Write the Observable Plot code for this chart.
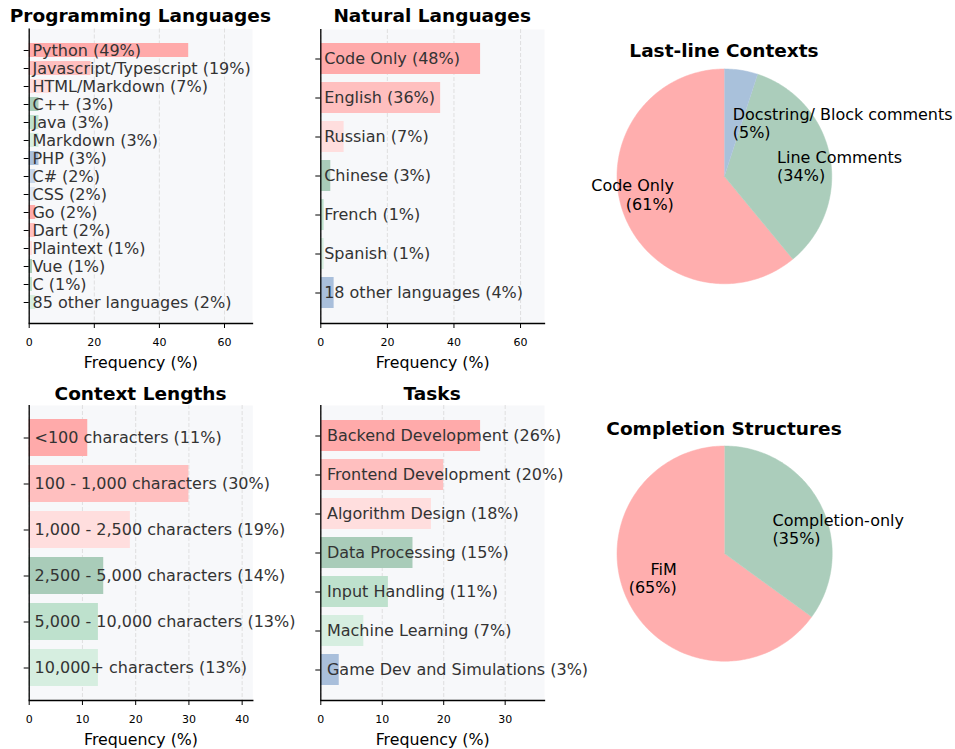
<!DOCTYPE html>
<html><head><meta charset="utf-8">
<script src="https://cdn.jsdelivr.net/npm/d3@7"></script>
<script src="https://cdn.jsdelivr.net/npm/@observablehq/plot@0.6"></script>
<style>
body{margin:0;background:#fff;font-family:"DejaVu Sans",sans-serif;}
#root{position:relative;width:955px;height:749px;overflow:hidden;background:#fff;}
.panel{position:absolute;}
.title{position:absolute;font-weight:bold;font-size:18.5px;transform:translate(-50%,-50%);white-space:nowrap;color:#000;line-height:1.2;}
</style></head><body><div id="root"></div>
<script>
// ---- data ----
const progLangs = ["Python","Javascript/Typescript","HTML/Markdown","C++","Java","Markdown","PHP","C#","CSS","Go","Dart","Plaintext","Vue","C","85 other languages"];
const progVals = [49,19,7,3,3,3,3,2,2,2,2,1,1,1,2];
const natLangs = ["Code Only","English","Russian","Chinese","French","Spanish","18 other languages"];
const natVals = [48,36,7,3,1,1,4];
const ctxLens = ["<100 characters","100 - 1,000 characters","1,000 - 2,500 characters","2,500 - 5,000 characters","5,000 - 10,000 characters","10,000+ characters"];
const ctxVals = [11,30,19,14,13,13];
const tasks = ["Backend Development","Frontend Development","Algorithm Design","Data Processing","Input Handling","Machine Learning","Game Dev and Simulations"];
const taskVals = [26,20,18,15,11,7,3];
const lastLine = ["Code Only","Line Comments","Docstring/ Block comments"];
const lastLineVals = [61,34,5];
const compStruct = ["FiM","Completion-only"];
const compStructVals = [65,35];
const ticks60 = [0,20,40,60];
const ticks40 = [0,10,20,30,40];
const ticks30 = [0,10,20,30];
const palette = ["#ffaaaa","#ffbfbf","#ffdede","#a9ccb9","#bee1cd","#d6eee0","#a9bfdb","#c7d6ea","#dfe7f3"];
const pieColors = ["#ffaeae","#abcdbb","#a9c1db"];

const root = document.getElementById("root");
const FONT = "DejaVu Sans";

function addTitle(text, x, y){
  const d = document.createElement("div");
  d.className = "title"; d.textContent = text;
  d.style.left = x + "px"; d.style.top = y + "px";
  root.appendChild(d);
}

function barPanel(cats, vals, ticks, L, T, W, H, axL, axR, axT, axB, title, titleY){
  const n = cats.length;
  const data = cats.map((c,i)=>({cat:c, v:vals[i], label:`${c} (${vals[i]}%)`, color: palette[i % palette.length]}));
  const xmax = d3.max(vals)*1.4;
  const chart = Plot.plot({
    width: W, height: H,
    marginLeft: axL - L, marginRight: L + W - axR, marginTop: axT - T, marginBottom: T + H - axB,
    style: {fontFamily: FONT, background: "transparent", overflow: "visible"},
    x: {domain: [0, xmax]},
    y: {domain: cats, paddingInner: 0.2, paddingOuter: 0.05*(n-0.2), align: 0.5},
    color: {type: "identity"},
    marks: [
      Plot.frame({fill: "#f7f8fa", stroke: "none"}),
      Plot.gridX(ticks, {stroke: "#dcdcdc", strokeOpacity: 1, strokeWidth: 0.9, strokeDasharray: "4,2"}),
      Plot.barX(data, {x: "v", y: "cat", fill: "color"}),
      Plot.text(data, {x: () => 1, y: "cat", text: "label", textAnchor: "start", fill: "#333", fontSize: 16}),
      Plot.ruleX([0], {stroke: "black", strokeWidth: 1.3}),
      Plot.frame({anchor: "bottom", stroke: "black", strokeWidth: 1.3}),
      Plot.axisY({tickFormat: () => "", tickSize: 5, color: "black", label: null}),
      Plot.axisX(ticks, {tickSize: 5, tickPadding: 10, fontSize: 11, color: "black", label: null}),
      Plot.text(["Frequency (%)"], {frameAnchor: "bottom", dy: 39, lineAnchor: "middle", fontSize: 15.8, fill: "black"})
    ]
  });
  const div = document.createElement("div");
  div.className = "panel"; div.style.left = L + "px"; div.style.top = T + "px";
  div.appendChild(chart); root.appendChild(div);
  addTitle(title, (axL+axR)/2, titleY);
}

function piePanel(cats, vals, cx, cy, r, title, titleY){
  const S = 1.2;
  const size = 2*S*r;
  const total = d3.sum(vals);
  const pts = [], labels = [];
  let a = 90;
  cats.forEach((c,i)=>{
    const sweep = 360*vals[i]/total;
    const a0 = a, a1 = a + sweep;
    const col = pieColors[i];
    pts.push({slice:c, x:0, y:0, color:col});
    const steps = Math.max(2, Math.ceil(sweep));
    for (let k=0;k<=steps;k++){
      const t = (a0 + (a1-a0)*k/steps)*Math.PI/180;
      pts.push({slice:c, x:Math.cos(t), y:Math.sin(t), color:col});
    }
    const m = (a0+a1)/2*Math.PI/180;
    labels.push({text:`${c}\n(${vals[i]}%)`, x:0.5*Math.cos(m), y:0.5*Math.sin(m)});
    a = a1;
  });
  const chart = Plot.plot({
    width: size, height: size, margin: 0,
    style: {fontFamily: FONT, background: "transparent", overflow: "visible"},
    x: {domain: [-S, S], axis: null},
    y: {domain: [-S, S], axis: null},
    color: {type: "identity"},
    marks: [
      Plot.line(pts, {x:"x", y:"y", z:"slice", fill:"color", stroke:"color", strokeWidth:0.5}),
      Plot.text(labels.filter(d=>d.x<0), {x:"x", y:"y", text:"text", textAnchor:"end", fontSize:16, lineHeight:1.15, fill:"black"}),
      Plot.text(labels.filter(d=>d.x>=0), {x:"x", y:"y", text:"text", textAnchor:"start", fontSize:16, lineHeight:1.15, fill:"black"})
    ]
  });
  const div = document.createElement("div");
  div.className = "panel"; div.style.left = (cx - size/2) + "px"; div.style.top = (cy - size/2) + "px";
  div.appendChild(chart); root.appendChild(div);
  addTitle(title, cx, titleY);
}

barPanel(progLangs, progVals, ticks60, 0, 0, 290, 380, 28.7, 252, 28.5, 323, "Programming Languages", 16);
barPanel(natLangs, natVals, ticks60, 290, 0, 290, 380, 320.3, 544, 29, 323, "Natural Languages", 16);
barPanel(ctxLens, ctxVals, ticks40, 0, 380, 290, 369, 28.7, 252.3, 405, 700, "Context Lengths", 393.5);
barPanel(tasks, taskVals, ticks30, 290, 380, 290, 369, 320.3, 544, 405, 700, "Tasks", 393.5);
piePanel(lastLine, lastLineVals, 724, 175.7, 107.4, "Last-line Contexts", 51);
piePanel(compStruct, compStructVals, 724, 553.3, 107.6, "Completion Structures", 428.8);
</script>
</body></html>
